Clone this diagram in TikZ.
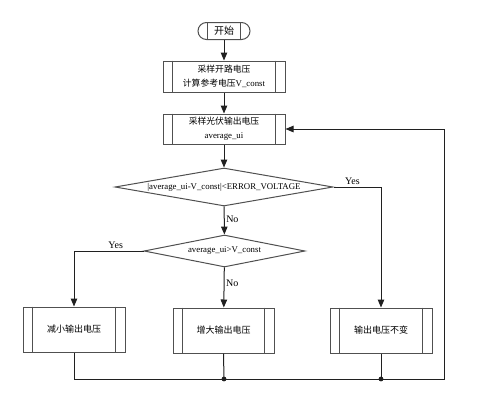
\documentclass[tikz,border=0pt]{standalone}
\usepackage{fontspec}
\setmainfont{Liberation Serif}
\newfontfamily\cjk{Noto Sans CJK SC}
\usetikzlibrary{shapes.geometric,arrows.meta}
\definecolor{ln}{HTML}{202020}
\definecolor{bx}{HTML}{505050}
\begin{document}
\begin{tikzpicture}[x=1pt,y=-1pt,line width=1pt,
  proc/.style={draw=bx,rectangle,inner sep=0pt,align=center,font=\fontsize{8.8}{14}\selectfont},
  dec/.style={draw=bx,diamond,inner sep=0pt,align=center,font=\fontsize{8.8}{10}\selectfont},
  arr/.style={draw=ln,-{Triangle[length=8pt,width=6.5pt]}},
  conn/.style={draw=ln},
  lbl/.style={font=\fontsize{10}{11}\selectfont,inner sep=1.5pt}]
\useasboundingbox (0,0) rectangle (481,408);
\fill[white] (0,0) rectangle (481,408);
% start terminal
\node[draw=bx,rounded corners=8.5pt,minimum width=52pt,minimum height=17pt,inner sep=0pt,font=\cjk\fontsize{10}{11}\selectfont] (st) at (224,31) {开始};
\draw[bx] ([xshift=10pt]st.north west) -- ([xshift=10pt]st.south west);
\draw[bx] ([xshift=-10pt]st.north east) -- ([xshift=-10pt]st.south east);
% process boxes
\node[proc,minimum width=122pt,minimum height=31pt] (b1) at (224,76.5) {{\cjk 采样开路电压}\\{\cjk 计算参考电压}V\_const};
\node[proc,minimum width=122pt,minimum height=30pt] (b2) at (224,129) {{\cjk 采样光伏输出电压}\\average\_ui};
\node[dec,minimum width=218pt,minimum height=38pt,aspect=5.7] (d1) at (224,187) {|average\_ui-V\_const|<ERROR\_VOLTAGE};
\node[dec,minimum width=161pt,minimum height=32pt,aspect=5] (d2) at (224.5,251) {average\_ui>V\_const};
\node[proc,minimum width=102pt,minimum height=45pt,font=\cjk\fontsize{9}{10}\selectfont] (bl) at (74,329.5) {减小输出电压};
\node[proc,minimum width=101pt,minimum height=45pt,font=\cjk\fontsize{9}{10}\selectfont] (bm) at (223.5,330.5) {增大输出电压};
\node[proc,minimum width=102pt,minimum height=45pt,font=\cjk\fontsize{9}{10}\selectfont] (br) at (381,330.5) {输出电压不变};
\foreach \n in {b1,b2,bl,bm,br}{
  \draw[bx] ([xshift=10pt]\n.north west) -- ([xshift=10pt]\n.south west);
  \draw[bx] ([xshift=-10pt]\n.north east) -- ([xshift=-10pt]\n.south east);
}
\coordinate (jm) at (224,379);
\coordinate (jr) at (381,379);
\coordinate (cr) at (444,379);
% connectors
\draw[arr] (st) -- (b1);
\draw[arr] (b1) -- (b2);
\draw[arr] (b2) -- (d1);
\draw[arr] (d1) -- node[lbl,right,pos=0.45]{No} (d2);
\draw[arr] (d1.east) -- node[lbl,above,pos=0.4]{Yes} (d1.east -| br.north) -- (br.north);
\draw[arr] (d2.west) -- node[lbl,above,pos=0.4]{Yes} (d2.west -| bl.north) -- (bl.north);
\draw[arr] (d2) -- node[lbl,right,pos=0.4]{No} (bm);
\draw[arr] (bl.south) |- (cr) |- (b2.east);
\draw[conn] (bm.south) -- (jm);
\draw[conn] (br.south) -- (jr);
\fill[ln] (jm) circle (2.4pt);
\fill[ln] (jr) circle (2.4pt);
\end{tikzpicture}
\end{document}
